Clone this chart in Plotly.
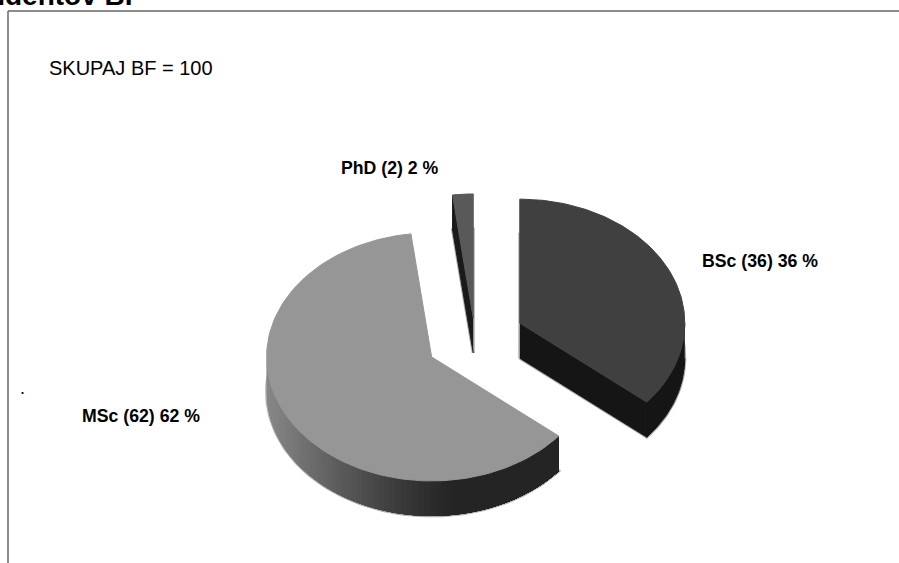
import numpy as np
import plotly.graph_objects as go

# data
categories = ["BSc", "MSc", "PhD"]
counts = [36, 62, 2]
title_text = "študentov BF"
total_text = "SKUPAJ BF = 100"

# pie geometry (pixel-based axes)
W, H = 899, 563
CX, CY = 475, 339
RX, RY = 165, 124
DEPTH = 35
EXPLODE = [0.30, 0.30, 0.17]
TOP_COLORS = ["#404040", "#969696", "#595959"]
WALL_DARK = "#151515"
SHADOW = "rgba(140,140,140,0.7)"

fig = go.Figure()


def poly(xs, ys, color, lw=1):
    fig.add_trace(go.Scatter(
        x=list(xs), y=list(ys), mode="lines", fill="toself", fillcolor=color,
        line=dict(color=color, width=lw), hoverinfo="skip", showlegend=False))


# slices from the values
total = sum(counts)
edges = np.concatenate([[0], np.cumsum(counts)]) / total * 2 * np.pi
slices = []
for i in range(len(counts)):
    a0, a1 = edges[i], edges[i + 1]
    mid = (a0 + a1) / 2
    ax = CX + EXPLODE[i] * RX * np.sin(mid)
    ay = CY - EXPLODE[i] * RY * np.cos(mid)
    slices.append((ax, ay, a0, a1))


def rim(ax, ay, a0, a1, n=120):
    t = np.linspace(a0, a1, n)
    return ax + RX * np.sin(t), ay - RY * np.cos(t)


def sector(ax, ay, a0, a1):
    x, y = rim(ax, ay, a0, a1)
    return np.r_[ax, x, ax], np.r_[ay, y, ay]


# soft outline of the lower faces
for ax, ay, a0, a1 in slices:
    x, y = sector(ax, ay, a0, a1)
    fig.add_trace(go.Scatter(x=x, y=y + DEPTH, mode="lines", line=dict(color=SHADOW, width=3),
                             hoverinfo="skip", showlegend=False))
    poly(x, y + DEPTH, "#ffffff", lw=0)

# BSc
ax, ay, a0, a1 = slices[0]
x, y = rim(ax, ay, np.pi / 2, a1)
poly(np.r_[x, x[::-1]], np.r_[y, y[::-1] + DEPTH], WALL_DARK)
ex, ey = rim(ax, ay, a1, a1, 1)
poly([ax, ex[0], ex[0], ax], [ay, ey[0], ey[0] + DEPTH, ay + DEPTH], WALL_DARK)
x, y = sector(ax, ay, a0, a1)
poly(x, y, TOP_COLORS[0])

# PhD
ax, ay, a0, a1 = slices[2]
ex, ey = rim(ax, ay, a0, a0, 1)
poly([ax, ex[0], ex[0], ax], [ay, ey[0], ey[0] + DEPTH, ay + DEPTH], "#1a1a1a")
x, y = sector(ax, ay, a0, a1)
poly(x, y, TOP_COLORS[2])

# MSc with a shaded rim, painted from the left end so that each step covers the last
ax, ay, a0, a1 = slices[1]
steps = np.linspace(3 * np.pi / 2, a0, 70)
for s in steps[:-1]:
    x, y = rim(ax, ay, a0, s, 80)
    f = np.clip((ax + RX - 40 - x[-1]) / (2 * RX - 40), 0, 1)
    g = int(36 + 100 * max(0, f - 0.35) ** 1.25 / 0.65 ** 1.25)
    c = f"rgb({g},{g},{g})"
    poly(np.r_[x, x[::-1]], np.r_[y, y[::-1] + DEPTH], c, lw=0)
x, y = sector(ax, ay, a0, a1)
poly(x, y, TOP_COLORS[1])

# labels
LABEL_POS = [(700, 261), (80, 416), (339, 168)]
for cat, v, (lx, ly) in zip(categories, counts, LABEL_POS):
    fig.add_annotation(x=lx, y=ly, xref="x", yref="y", xanchor="left", yanchor="middle",
                       showarrow=False, text=f"<b>{cat} ({v}) {v} %</b>",
                       font=dict(family="Liberation Sans", size=17.7, color="#000000"))
fig.add_annotation(x=47, y=68, xref="x", yref="y", xanchor="left", yanchor="middle", showarrow=False,
                   text=total_text, font=dict(family="Liberation Sans", size=20, color="#000000"))
fig.add_annotation(x=22, y=388, xref="x", yref="y", xanchor="center", yanchor="middle", showarrow=False,
                   text=".", font=dict(family="Liberation Sans", size=18, color="#000000"))
fig.add_annotation(x=143, y=12, xref="x", yref="y", xanchor="right", yanchor="bottom", showarrow=False,
                   text=f"<b>{title_text}</b>", borderpad=0,
                   font=dict(family="Liberation Sans", size=28, color="#000000"))

# frame
fig.add_shape(type="line", xref="x", yref="y", x0=8, x1=8, y0=11, y1=H, line=dict(color="#666666", width=1.5))
fig.add_shape(type="line", xref="x", yref="y", x0=8, x1=W, y0=11, y1=11, line=dict(color="#666666", width=1.5))

fig.update_layout(
    width=W, height=H, margin=dict(l=0, r=0, t=0, b=0),
    paper_bgcolor="white", plot_bgcolor="white", showlegend=False,
    xaxis=dict(range=[0, W], visible=False, fixedrange=True),
    yaxis=dict(range=[H, 0], visible=False, fixedrange=True),
)
fig.write_html("out.html", config={"displayModeBar": False},
               post_script="document.body.style.margin='0';document.body.style.overflow='hidden';")
